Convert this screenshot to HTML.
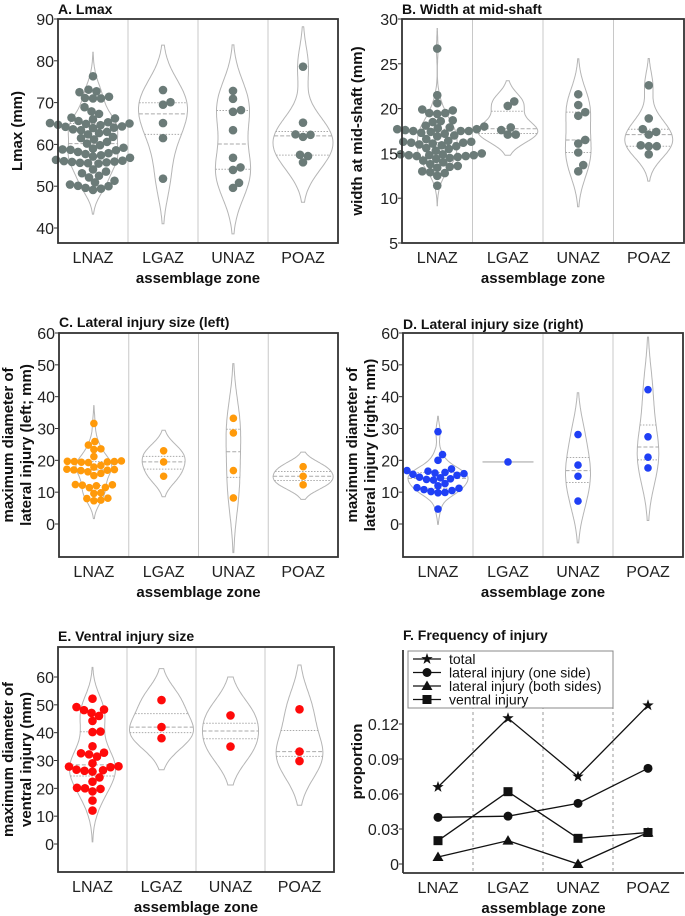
<!DOCTYPE html>
<html><head><meta charset="utf-8">
<style>
html,body{margin:0;padding:0;background:#fff;}
svg{display:block;font-family:"Liberation Sans",Arial,sans-serif;}
.tk{font-size:16px;fill:#222;}
.ttl{font-size:14px;font-weight:bold;fill:#111;}
.lab{font-size:15px;font-weight:bold;fill:#111;}
</style></head>
<body>
<svg id="fig" width="685" height="916" viewBox="0 0 685 916" xmlns="http://www.w3.org/2000/svg"></svg>
<script>
const categories = ["LNAZ","LGAZ","UNAZ","POAZ"];
// Panel A: Lmax (mm)
const lmaxLNAZ = [76.3,73.1,72.7,72.5,71.4,71.1,71.0,71.0,68.9,67.9,67.3,66.4,66.2,66.0,65.6,65.3,65.1,65.0,64.9,64.7,64.6,64.3,64.2,64.0,63.9,63.6,63.4,63.0,62.7,62.4,61.8,61.5,61.2,60.6,60.2,59.8,59.2,59.0,58.8,58.7,58.6,58.2,57.9,57.7,57.4,57.1,56.8,56.3,56.1,56.0,55.9,55.8,55.7,55.6,55.5,55.4,54.0,53.5,53.1,52.5,52.1,51.3,50.9,50.4,50.1,50.0,49.6,49.4,49.1];
const lmaxLGAZ = [73.0,70.1,69.5,65.1,61.5,51.8];
const lmaxUNAZ = [72.8,70.9,68.2,67.8,63.4,56.8,54.5,53.9,50.8,49.6];
const lmaxPOAZ = [78.6,65.2,62.4,62.3,61.8,57.5,57.2,55.7];
// Panel B: width at mid-shaft (mm)
const widthLNAZ = [26.7,21.5,20.6,19.9,19.8,19.5,19.4,19.5,18.7,18.6,18.5,18.1,18.0,17.9,17.8,17.7,17.7,17.6,17.5,17.5,17.5,17.4,17.3,17.2,17.0,16.9,16.6,16.4,16.3,16.3,16.2,16.2,16.1,16.0,15.9,15.8,15.6,15.5,15.3,15.0,14.9,14.9,14.8,14.8,14.8,14.7,14.7,14.6,14.5,14.4,14.2,14.0,13.8,13.6,13.5,13.4,13.0,12.9,12.8,12.5,11.4];
const widthLGAZ = [20.8,20.3,17.9,17.6,17.1,17.1];
const widthUNAZ = [21.6,20.4,19.6,19.2,16.5,16.1,15.1,13.7,13.0];
const widthPOAZ = [22.6,18.9,17.7,17.4,17.1,15.9,15.8,15.8,14.9];
// Panel C: lateral injury (left)
const leftLNAZ = [31.6,25.9,24.8,23.6,23.4,21.2,19.8,19.7,19.6,19.6,19.5,19.4,19.3,18.4,17.9,17.2,17.1,17.0,16.9,16.8,16.4,15.9,15.2,12.4,12.3,12.2,12.0,11.5,11.4,9.8,9.6,8.1,8.0,7.5,7.3];
const leftLGAZ = [23.0,19.5,15.0];
const leftUNAZ = [33.2,28.6,16.8,8.2];
const leftPOAZ = [18.0,15.0,12.3];
// Panel D: lateral injury (right)
const rightLNAZ = [29.0,21.8,20.0,17.3,16.8,16.6,16.2,16.0,15.8,15.6,15.3,14.7,14.5,14.2,14.0,13.8,12.7,12.0,11.4,11.2,10.8,10.5,10.2,9.9,9.8,4.7];
const rightLGAZ = [19.5];
const rightUNAZ = [28.1,18.5,15.0,7.2];
const rightPOAZ = [42.2,27.4,21.0,17.6];
// Panel E: ventral injury
const ventLNAZ = [52.2,49.2,48.3,48.1,47.1,46.0,44.2,40.4,40.2,35.1,32.8,32.6,32.2,31.4,29.0,27.9,27.8,27.6,26.7,26.5,26.3,26.0,23.9,22.4,20.2,20.0,19.8,18.9,15.6,12.0];
const ventLGAZ = [51.7,42.0,38.0];
const ventUNAZ = [46.2,35.0];
const ventPOAZ = [48.4,33.2,29.8];
// Panel F: frequency of injury
const freqTotal = [0.066,0.125,0.075,0.136];
const freqOneSide = [0.040,0.041,0.052,0.082];
const freqBothSides = [0.006,0.020,0.000,0.027];
const freqVentral = [0.020,0.062,0.022,0.027];
const ticksA = [40,50,60,70,80,90];
const ticksB = [5,10,15,20,25,30];
const ticksCD = [0,10,20,30,40,50,60];
const ticksE = [0,10,20,30,40,50,60];
const ticksF = [0,0.03,0.06,0.09,0.12];
const tickLabelsF = ["0","0.03","0.06","0.09","0.12"];

const NS="http://www.w3.org/2000/svg";
const svg=document.getElementById('fig');
function mk(tag,attrs,parent){const e=document.createElementNS(NS,tag);for(const k in attrs)e.setAttribute(k,attrs[k]);(parent||svg).appendChild(e);return e;}
function txt(s,attrs,parent){const e=mk('text',attrs,parent);e.textContent=s;return e;}
function sd(a){const m=a.reduce((s,v)=>s+v,0)/a.length;return Math.sqrt(a.reduce((s,v)=>s+(v-m)*(v-m),0)/(a.length-1));}
function quant(a,q){const s=[...a].sort((x,y)=>x-y);const p=(s.length-1)*q;const lo=Math.floor(p),hi=Math.ceil(p);return s[lo]+(s[hi]-s[lo])*(p-lo);}
function kde(a){const bw=sd(a)*Math.pow(a.length,-0.2);const lo=Math.min(...a)-2*bw,hi=Math.max(...a)+2*bw;const pts=[];for(let i=0;i<=100;i++){const v=lo+(hi-lo)*i/100;let d=0;for(const x of a)d+=Math.exp(-0.5*((v-x)/bw)**2);d/=a.length*bw*Math.sqrt(2*Math.PI);pts.push([v,d]);}return {pts,bw};}

function panel(cfg){
  const g=mk('g',{});
  
  
  const yS=v=>cfg.y0+(v-cfg.v0)*(cfg.y1-cfg.y0)/(cfg.v1-cfg.v0);
  const step=(cfg.right-cfg.left)/categories.length;
  const xS=i=>cfg.left+step*(i+0.5);
  for(let i=1;i<categories.length;i++){
    const l=mk('line',{x1:cfg.left+step*i,x2:cfg.left+step*i,y1:cfg.top,y2:cfg.bottom,stroke:'#c8c8c8','stroke-width':1},g);
    
  }
  const dens=cfg.series.map(a=>a.length>1?kde(a):null);
  let maxD=0;dens.forEach(d=>{if(d)d.pts.forEach(p=>maxD=Math.max(maxD,p[1]));});
  cfg.series.forEach((a,i)=>{
    const cx=xS(i);
    if(a.length<2){
      const l=mk('line',{x1:cx-cfg.W*0.85,x2:cx+cfg.W*0.85,y1:yS(a[0]),y2:yS(a[0]),stroke:'#aaa','stroke-width':1.2},g);
      
    } else {
      const d=dens[i];const hw=p=>p[1]/maxD*cfg.W;
      let path='';d.pts.forEach((p,k)=>{path+=(k?'L':'M')+(cx+hw(p)).toFixed(1)+' '+yS(p[0]).toFixed(1);});
      for(let k=d.pts.length-1;k>=0;k--){const p=d.pts[k];path+='L'+(cx-hw(p)).toFixed(1)+' '+yS(p[0]).toFixed(1);}
      path+='Z';
      const v=mk('path',{d:path,fill:'none',stroke:'#b5b5b5','stroke-width':1},g);
      
      [0.25,0.5,0.75].forEach(q=>{
        const qv=quant(a,q);let best=d.pts[0];d.pts.forEach(p=>{if(Math.abs(p[0]-qv)<Math.abs(best[0]-qv))best=p;});
        const w=hw(best);
        const l=mk('line',{x1:cx-w,x2:cx+w,y1:yS(qv),y2:yS(qv),stroke:'#aaa','stroke-width':1,'stroke-dasharray':q===0.5?'4,2':'1.5,1.5'},g);
        
      });
    }
  });
  cfg.series.forEach((a,i)=>{
    const cx=xS(i);const placed=[];const r=cfg.r;const md=2*r*cfg.gap;
    [...a].sort((x,y)=>x-y).forEach(v=>{
      const py=yS(v);let off=0;
      for(let k=0;k<300;k++){const o=(k%2?1:-1)*Math.ceil(k/2)*0.5;
        if(placed.every(p=>(p[0]-(cx+o))**2+(p[1]-py)**2>=md*md-0.01)){off=o;break;}}
      placed.push([cx+off,py]);
      const c=mk('circle',{cx:cx+off,cy:py,r:r,fill:cfg.color},g);
      
    });
  });
  const f=mk('rect',{x:cfg.left,y:cfg.top,width:cfg.right-cfg.left,height:cfg.bottom-cfg.top,fill:'none',stroke:'#333','stroke-width':1.8},g);
  
  axes(g,cfg,yS,xS);
}
function axes(g,cfg,yS,xS){
  cfg.ticks.forEach((t,k)=>{
    const y=yS(t);
    mk('line',{x1:cfg.left-4,x2:cfg.left,y1:y,y2:y,stroke:'#333','stroke-width':1},g);
    const e=txt(cfg.tickLabels?cfg.tickLabels[k]:String(t),{x:cfg.left-4,y:y+6,'text-anchor':'end',class:'tk'},g);
    
  });
  categories.forEach((c,i)=>{
    const e=txt(c,{x:xS(i),y:cfg.bottom+20,'text-anchor':'middle',class:'tk'},g);
    
  });
  const xt=txt('assemblage zone',{x:(cfg.left+cfg.right)/2,y:cfg.bottom+40,'text-anchor':'middle',class:'lab'},g);
  
  const t=txt(cfg.title,{x:cfg.titleX,y:cfg.titleY,class:'ttl'},g);
  
  const ly=(cfg.top+cfg.bottom)/2;
  cfg.ylab.forEach((s,k)=>{
    const lx=cfg.ylabX[k];
    const rg=mk('g',{transform:'translate('+lx+','+ly+') rotate(-90)'},g);
    const e=txt(s,{x:0,y:0,'text-anchor':'middle',class:'lab'},rg);
    
  });
}

panel({name:'panel-a-lmax',left:58,right:338,top:19,bottom:243,v0:40,y0:228,v1:90,y1:19,ticks:ticksA,
  series:[lmaxLNAZ,lmaxLGAZ,lmaxUNAZ,lmaxPOAZ],color:'#6b7b78',r:4.3,gap:0.9,W:30,title:'A. Lmax',titleX:58,titleY:14,ylab:['Lmax (mm)'],ylabX:[22]});
panel({name:'panel-b-width',left:402,right:684,top:19,bottom:243,v0:5,y0:243,v1:30,y1:19,ticks:ticksB,
  series:[widthLNAZ,widthLGAZ,widthUNAZ,widthPOAZ],color:'#6b7b78',r:4.3,gap:0.9,W:30,title:'B. Width at mid-shaft',titleX:402,titleY:14,ylab:['width at mid-shaft (mm)'],ylabX:[362]});
panel({name:'panel-c-left-injury',left:59,right:338,top:333,bottom:557,v0:0,y0:524,v1:60,y1:333,ticks:ticksCD,
  series:[leftLNAZ,leftLGAZ,leftUNAZ,leftPOAZ],color:'#ff9a0a',r:3.8,gap:0.92,W:30,title:'C. Lateral injury size (left)',titleX:59,titleY:327,ylab:['maximum diameter of','lateral injury (left; mm)'],ylabX:[13,31]});
panel({name:'panel-d-right-injury',left:403,right:683,top:333,bottom:557,v0:0,y0:524,v1:60,y1:333,ticks:ticksCD,
  series:[rightLNAZ,rightLGAZ,rightUNAZ,rightPOAZ],color:'#1f3ff5',r:3.8,gap:0.92,W:30,title:'D. Lateral injury size (right)',titleX:403,titleY:329,ylab:['maximum diameter of','lateral injury (right; mm)'],ylabX:[357,375]});
panel({name:'panel-e-ventral-injury',left:58,right:334,top:647,bottom:872,v0:0,y0:844,v1:60,y1:677,ticks:ticksE,
  series:[ventLNAZ,ventLGAZ,ventUNAZ,ventPOAZ],color:'#ff0a0a',r:4.3,gap:0.92,W:32,title:'E. Ventral injury size',titleX:58,titleY:641,ylab:['maximum diameter of','ventral injury (mm)'],ylabX:[13,31]});

// Panel F
(function(){
  const cfg={left:403,right:684,top:650,bottom:873,v0:0,y0:864,v1:0.12,y1:724,ticks:ticksF,tickLabels:tickLabelsF,
    title:'F. Frequency of injury',titleX:403,titleY:640,ylab:['proportion'],ylabX:[362]};
  const g=mk('g',{});
  
  
  const yS=v=>cfg.y0+(v-cfg.v0)*(cfg.y1-cfg.y0)/(cfg.v1-cfg.v0);
  const xS=i=>438+70*i;
  for(let i=1;i<4;i++){const x=(xS(i-1)+xS(i))/2;
    const l=mk('line',{x1:x,x2:x,y1:cfg.top+50,y2:cfg.bottom,stroke:'#999','stroke-width':1,'stroke-dasharray':'3,3'},g);
    }
  mk('line',{x1:cfg.left,x2:cfg.left,y1:cfg.top,y2:cfg.bottom,stroke:'#333','stroke-width':1.8},g);
  mk('line',{x1:cfg.left,x2:cfg.right,y1:cfg.bottom,y2:cfg.bottom,stroke:'#333','stroke-width':1.8},g);
  function marker(type,x,y,parent){
    if(type==='star'){let d='';for(let k=0;k<10;k++){const a=-Math.PI/2+k*Math.PI/5;const rr=k%2?2.4:6;d+=(k?'L':'M')+(x+rr*Math.cos(a)).toFixed(1)+' '+(y+rr*Math.sin(a)).toFixed(1);}return mk('path',{d:d+'Z',fill:'#111'},parent);}
    if(type==='circle')return mk('circle',{cx:x,cy:y,r:4.5,fill:'#111'},parent);
    if(type==='tri')return mk('path',{d:`M${x} ${y-5.5}L${x+5.5} ${y+4}L${x-5.5} ${y+4}Z`,fill:'#111'},parent);
    return mk('rect',{x:x-4.5,y:y-4.5,width:9,height:9,fill:'#111'},parent);
  }
  const series=[[freqTotal,'star','total'],[freqOneSide,'circle','lateral injury (one side)'],[freqBothSides,'tri','lateral injury (both sides)'],[freqVentral,'sq','ventral injury']];
  series.forEach(([vals,type,label])=>{
    const sg=mk('g',{},g);
    
    
    const l=mk('polyline',{points:vals.map((v,i)=>xS(i)+','+yS(v)).join(' '),fill:'none',stroke:'#111','stroke-width':1.3},sg);
    
    vals.forEach((v,i)=>{const m=marker(type,xS(i),yS(v),sg);});
  });
  const lg=mk('g',{},g);
  
  
  mk('rect',{x:408,y:651,width:205,height:57,fill:'#fff',stroke:'#888','stroke-width':1},lg);
  series.forEach(([vals,type,label],k)=>{
    const y=659+k*13.5;
    const eg=mk('g',{},lg);
    
    
    mk('line',{x1:413,x2:441,y1:y,y2:y,stroke:'#111','stroke-width':1.3},eg);
    marker(type,427,y,eg);
    txt(label,{x:449,y:y+5,style:'font-size:14px',fill:'#111'},eg);
  });
  axes(g,cfg,yS,xS);
})();
</script>
</body></html>
